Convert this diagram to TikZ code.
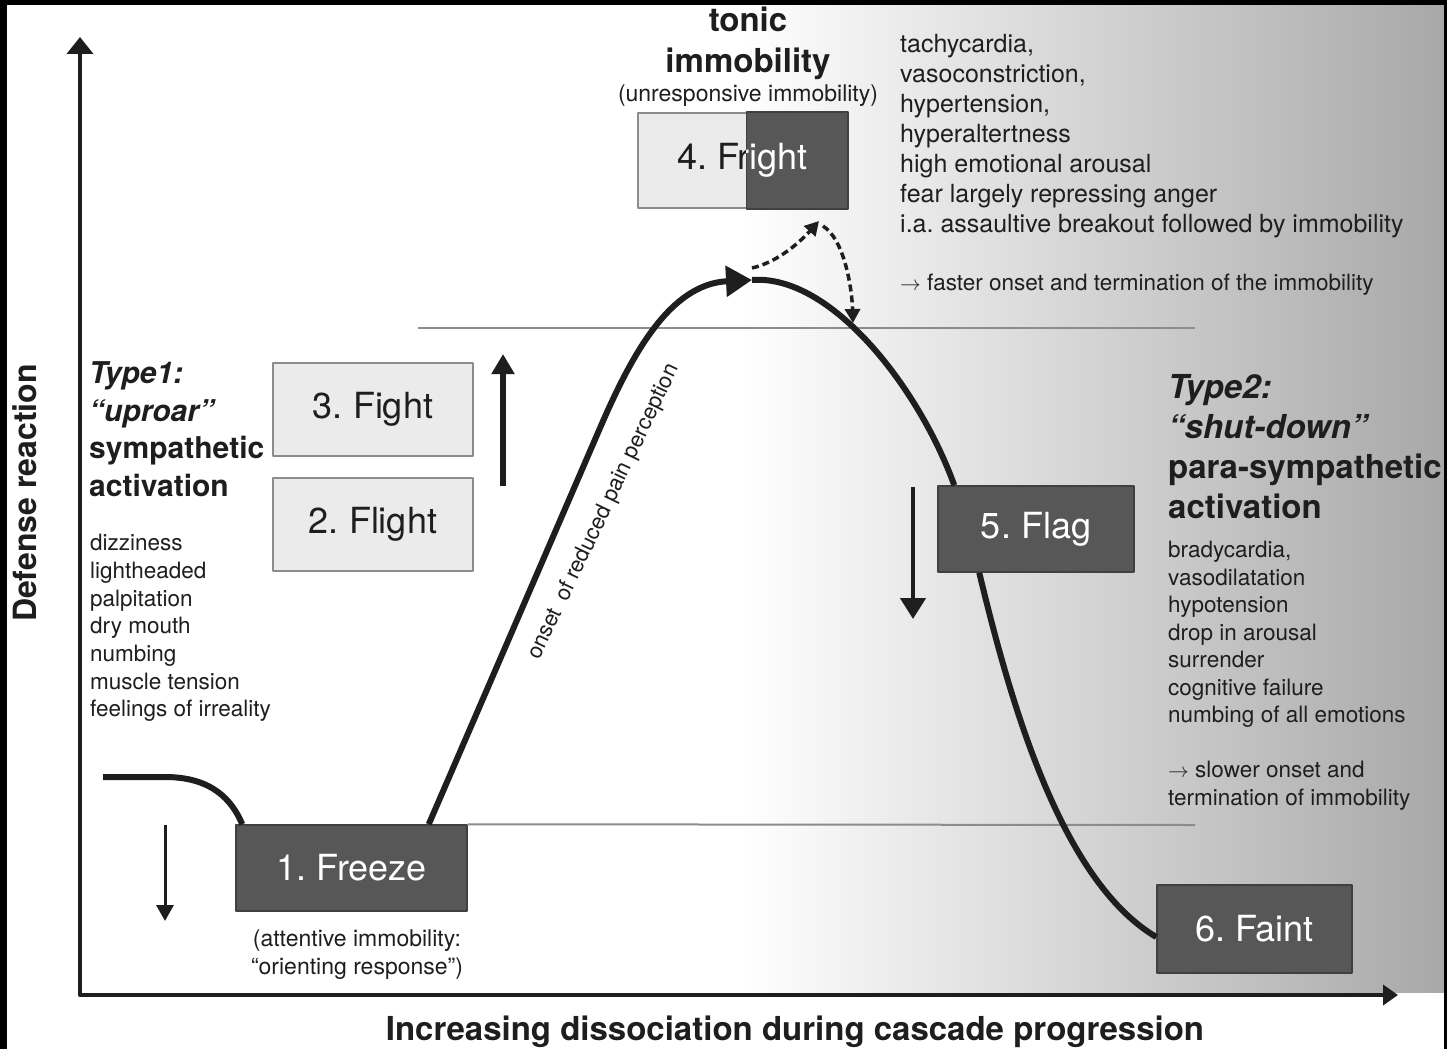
\documentclass[tikz,border=0pt]{standalone}
\usepackage{fontspec}
\setmainfont{TeX Gyre Heros}
\usetikzlibrary{arrows.meta}
\definecolor{ink}{HTML}{1E1E1E}
\definecolor{boxdark}{HTML}{575757}
\definecolor{boxlight}{HTML}{EBEBEB}
\definecolor{rulegray}{HTML}{8C8C8C}
\definecolor{shadegray}{HTML}{A8A8A8}

\begin{document}
\frenchspacing
\begin{tikzpicture}[x=1pt,y=-1pt,line join=round,
    darkbox/.style={draw=black!75,line width=1.5pt,fill=boxdark,text=white,inner sep=0pt,
      font=\fontsize{36}{40}\selectfont},
    lightbox/.style={draw=rulegray,line width=2pt,fill=boxlight,text=ink,inner sep=0pt,
      minimum width=200,minimum height=93,font=\fontsize{36}{40}\selectfont},
    curve/.style={line width=6pt,draw=ink},
    dashline/.style={line width=3.5pt,draw=ink,dash pattern=on 7pt off 4pt},
    rule/.style={line width=2pt,draw=rulegray},
    note/.style={anchor=north west,inner sep=0pt,align=left,text=ink},
    listfont/.style={font=\fontsize{22.5}{27.7}\selectfont}]

   % canvas and frame
   \useasboundingbox (0,0) rectangle (1447,1049);
   \fill[white] (0,0) rectangle (1447,1049);
   \shade[left color=white,right color=shadegray] (740,5) rectangle (1445,992);
   \fill[black] (0,0) rectangle (7,1049);
   \fill[black] (0,0) rectangle (1447,5);
   \fill[black] (1444,0) rectangle (1447,1049);

   % reference levels
   \draw[rule] (418,328) -- (1195,328);

   % stages
   \path (351.5,868) node[darkbox,minimum width=231,minimum height=86] (freeze) {1. Freeze};
   \path (373,409.5) node[lightbox] (fight) {3. Fight};
   \path (373,524.5) node[lightbox] (flight) {2. Flight};
   \path (742.5,160.5) node[lightbox,minimum width=209,minimum height=95] (fright) {};
   \path (1036,529) node[darkbox,minimum width=196,minimum height=86] (flag) {5. Flag};
   \path (1254.5,929) node[darkbox,minimum width=195,minimum height=88] (faint) {6. Faint};

   \draw[rule] (freeze.north east) -- (1195,825);

   % fright: half light, half dark
   \fill[boxdark,draw=black!75,line width=1.5pt] ([shift={(4,0)}]fright.north) rectangle (fright.south east);
   \begin{scope}
     \clip (fright.north west) rectangle ([shift={(4,0)}]fright.south);
     \path (fright.center) node[text=ink,font=\fontsize{36}{40}\selectfont] {4. Fright};
   \end{scope}
   \begin{scope}
     \clip ([shift={(4,0)}]fright.north) rectangle (fright.south east);
     \path (fright.center) node[text=white,font=\fontsize{36}{40}\selectfont] {4. Fright};
   \end{scope}

   % cascade curve
   \coordinate (start) at (103,777);
   \coordinate (bend) at (600,428);
   \coordinate (peak) at (752,280);
   \coordinate (jump) at (819,221);
   \coordinate (landing) at (853,323);
   \draw[curve] (start) -- (165,777) .. controls (212,777) and (232,800) .. ([shift={(7,0)}]freeze.north west);
   \draw[curve,-{Triangle[width=30pt,length=26pt]}] ([shift={(-39,0)}]freeze.north east) -- (bend)
        .. controls (632,354) and (670,284) .. (peak);
   \draw[curve] (peak) .. controls (832,274) and (920,390) .. ([shift={(17,0)}]flag.north west);
   \draw[curve] ([shift={(42,0)}]flag.south west) .. controls (1010,700) and (1060,880) .. ([shift={(0,8)}]faint.west);

   \draw[dashline,-{Triangle[width=15pt,length=14pt]}] ([shift={(0,-12)}]peak) .. controls (778,262) and (800,242) .. (jump);
   \draw[dashline,-{Triangle[width=15pt,length=14pt]}] ([shift={(4,5)}]jump) .. controls (845,240) and (852,290) .. (landing);

   % direction arrows
   \coordinate (riseA) at (503,486);
   \coordinate (riseB) at (503,354);
   \coordinate (dropA) at (913,487);
   \coordinate (dropB) at (913,619);
   \coordinate (sinkA) at (165,825);
   \coordinate (sinkB) at (165,921);
   \draw[line width=5.5pt,draw=ink,-{Triangle[width=22pt,length=20pt]}] (riseA) -- (riseB);
   \draw[line width=4.5pt,draw=ink,-{Triangle[width=25pt,length=21pt]}] (dropA) -- (dropB);
   \draw[line width=3pt,draw=ink,-{Triangle[width=17pt,length=16pt]}] (sinkA) -- (sinkB);

   % axes
   \coordinate (ytip) at (80,37);
   \coordinate (xtip) at (1398,995);
   \draw[line width=4pt,draw=ink,{Triangle[width=26pt,length=17pt]}-{Triangle[width=20pt,length=15pt]}] (ytip) |- (xtip);
   \path (25,493) node[rotate=90,text=ink,font=\fontsize{32}{36}\selectfont\bfseries] (ylabel) {Defense reaction};
   \path (795,1040) node[anchor=base,text=ink,font=\fontsize{33}{38}\selectfont\bfseries] (xlabel)
        {Increasing dissociation during cascade progression};

   % titles and symptom lists
   \path (748,32) node[anchor=base,text=ink,font=\fontsize{33}{40}\selectfont\bfseries] (tonic) {tonic};
   \path (748,72) node[anchor=base,text=ink,font=\fontsize{33}{40}\selectfont\bfseries] (immob) {immobility};
   \path (748,101) node[anchor=base,text=ink,font=\fontsize{23}{28}\selectfont] (unresp) {(unresponsive immobility)};

   \path (900,34) node[note,font=\fontsize{25}{30}\selectfont] (highlist)
        {tachycardia,\\vasoconstriction,\\hypertension,\\hyperaltertness\\high emotional arousal\\
         fear largely repressing anger\\i.a. assaultive breakout followed by immobility};
   \path (900,290) node[anchor=base west,inner sep=0pt,text=ink,font=\fontsize{22.5}{26}\selectfont] (faster)
        {$\rightarrow$ faster onset and termination of the immobility};

   \path (89,361.5) node[note,font=\fontsize{30}{37.7}\selectfont\bfseries] (type1)
        {\itshape Type1:\\\itshape “uproar”\\sympathetic\\activation};
   \path (90,534) node[note,listfont] (lowlist)
        {dizziness\\lightheaded\\palpitation\\dry mouth\\numbing\\muscle tension\\feelings of irreality};

   \path (1168,374) node[note,font=\fontsize{33}{40}\selectfont\bfseries] (type2)
        {\itshape Type2:\\\itshape “shut-down”\\para-sympathetic\\activation};
   \path (1168,541) node[note,font=\fontsize{22.5}{27.5}\selectfont] (droplist)
        {bradycardia,\\vasodilatation\\hypotension\\drop in arousal\\surrender\\cognitive failure\\
         numbing of all emotions\\[27.5pt]$\rightarrow$ slower onset and\\termination of immobility};

   \path (357,929.5) node[anchor=north,inner sep=0pt,align=center,text=ink,font=\fontsize{23}{28}\selectfont] (attentive)
        {(attentive immobility:\\“orienting response”)};

   \path (604,512) node[rotate=64.5,text=ink,font=\fontsize{22}{26}\selectfont] (onset)
        {onset\enspace of reduced pain perception};

\end{tikzpicture}
\end{document}
